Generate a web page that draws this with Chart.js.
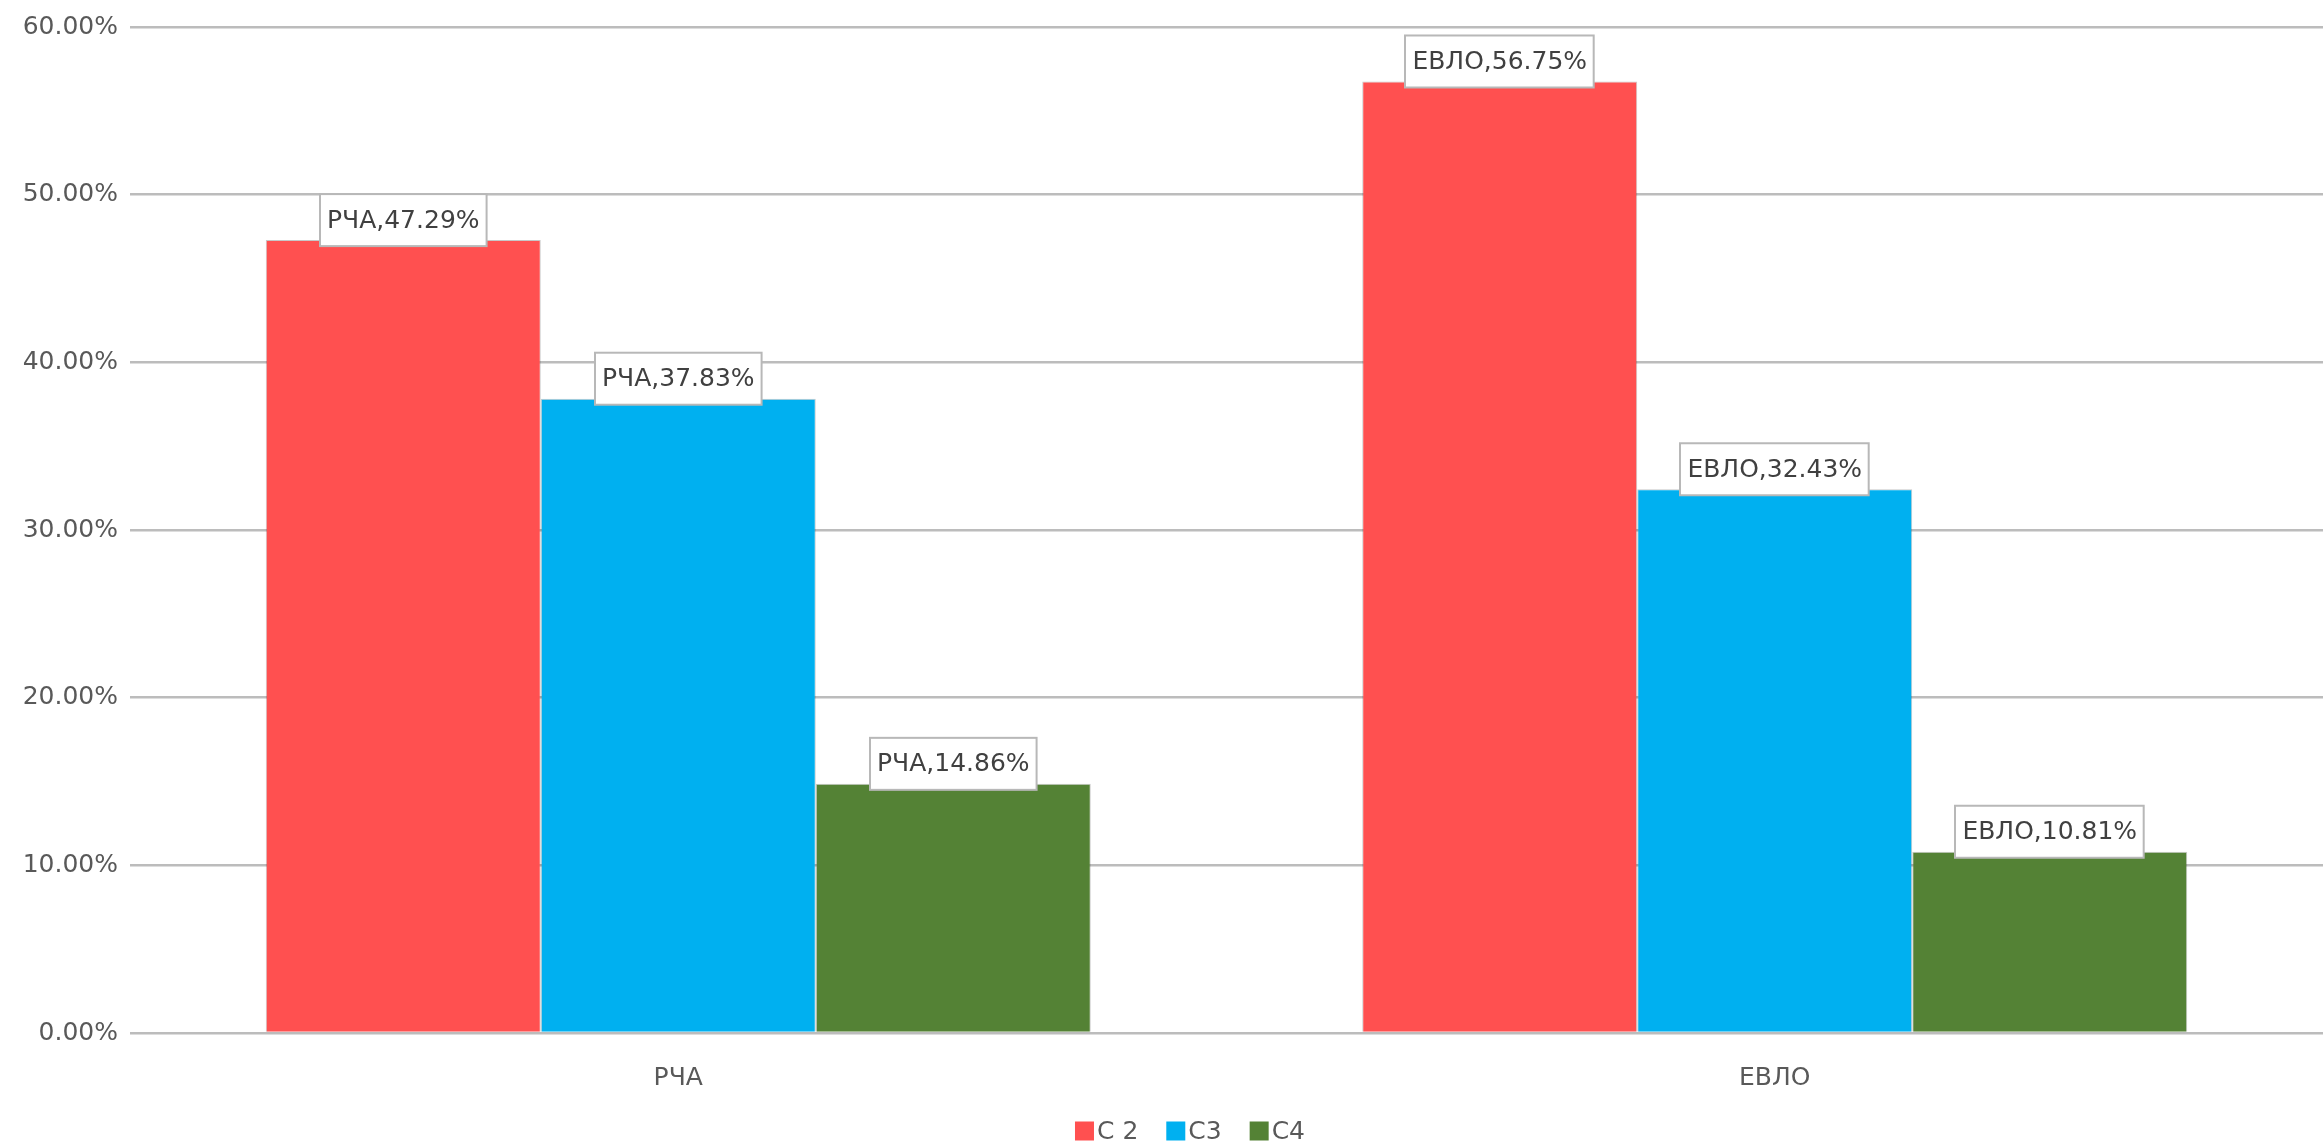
<!DOCTYPE html>
<html lang="ru">
<head>
<meta charset="utf-8">
<title>РЧА / ЕВЛО</title>
<script src="https://cdn.jsdelivr.net/npm/chart.js@4.4.1/dist/chart.umd.min.js"></script>
<style>
  html, body { margin: 0; padding: 0; background: #fff; }
  #wrap { width: 2323px; height: 1143px; }
</style>
</head>
<body>
<div id="wrap"><canvas id="chart" width="2323" height="1143"></canvas></div>
<script>
/* global Chart */

const categories = ["РЧА", "ЕВЛО"];
const seriesNames = ["С 2", "С3", "С4"];
const c2Values = [47.29, 56.75];
const c3Values = [37.83, 32.43];
const c4Values = [14.86, 10.81];
const yTicks = [0, 10, 20, 30, 40, 50, 60];

const COLORS = ["#FF5050", "#00B0F0", "#548235"];
const FONT = "'DejaVu Sans', 'Noto Sans', sans-serif";
const LEGEND_CX = 1190;
const LEGEND_CY = 1131;

function fmtPct(v) {
  return `${Number(v).toFixed(2)}%`;
}

// boxed labels "category,value%" sitting on top of each bar
const boxLabels = {
  id: "boxLabels",
  afterDatasetsDraw(chart) {
    const ctx = chart.ctx;
    ctx.save();
    ctx.font = `25px ${FONT}`;
    ctx.textAlign = "center";
    ctx.textBaseline = "middle";
    chart.data.datasets.forEach((ds, di) => {
      const meta = chart.getDatasetMeta(di);
      meta.data.forEach((bar, i) => {
        const text = `${chart.data.labels[i]},${fmtPct(ds.data[i])}`;
        const w = ctx.measureText(text).width + 14;
        const h = 52;
        const bottom = bar.y + 6;
        const left = Math.round(bar.x - w / 2);
        ctx.fillStyle = "#ffffff";
        ctx.fillRect(left, bottom - h, w, h);
        ctx.lineWidth = 2;
        ctx.strokeStyle = "#b8b8b8";
        ctx.strokeRect(left, bottom - h, w, h);
        ctx.fillStyle = "#404040";
        ctx.fillText(text, bar.x, bottom - h / 2 + 1);
      });
    });
    ctx.restore();
  }
};

// compact legend: small square, tight gap, like the office chart
const tightLegend = {
  id: "tightLegend",
  afterDraw(chart) {
    const ctx = chart.ctx;
    const box = 19, gap = 3, spacing = 28;
    ctx.save();
    ctx.font = `25px ${FONT}`;
    ctx.textBaseline = "middle";
    ctx.textAlign = "left";
    const items = chart.data.datasets.map((ds) => ({
      text: ds.label,
      color: ds.backgroundColor,
      w: box + gap + ctx.measureText(ds.label).width
    }));
    const total = items.reduce((s, it) => s + it.w, 0) + spacing * (items.length - 1);
    let x = LEGEND_CX - total / 2;
    items.forEach((it) => {
      ctx.fillStyle = it.color;
      ctx.fillRect(x, LEGEND_CY - box / 2, box, box);
      ctx.fillStyle = "#595959";
      ctx.fillText(it.text, x + box + gap, LEGEND_CY + 1);
      x += it.w + spacing;
    });
    ctx.restore();
  }
};

const datasets = [c2Values, c3Values, c4Values].map((vals, k) => ({
  label: seriesNames[k],
  data: vals,
  backgroundColor: COLORS[k],
  borderColor: "rgba(0,0,0,0.22)",
  borderWidth: 1,
  categoryPercentage: 0.7524,
  barPercentage: 1
}));

new Chart(document.getElementById("chart"), {
  type: "bar",
  data: { labels: categories, datasets },
  options: {
    responsive: false,
    animation: false,
    layout: { padding: { top: 24, left: 0, right: 0, bottom: 0 } },
    plugins: {
      tooltip: { enabled: false },
      legend: { display: false }
    },
    scales: {
      x: {
        afterFit(scale) { scale.height = 110; },
        grid: { display: false },
        border: { display: false },
        ticks: {
          color: "#595959",
          font: { family: FONT, size: 25 },
          padding: 22
        }
      },
      y: {
        min: 0,
        max: 60,
        afterFit(scale) { scale.width = 130; },
        afterBuildTicks(scale) { scale.ticks = yTicks.map((v) => ({ value: v })); },
        grid: { color: "#bcbcbc", lineWidth: 2.5, drawTicks: false },
        border: { display: false },
        ticks: {
          color: "#595959",
          font: { family: FONT, size: 25 },
          padding: 12,
          callback: (v) => fmtPct(v)
        }
      }
    }
  },
  plugins: [boxLabels, tightLegend]
});
</script>
</body>
</html>
